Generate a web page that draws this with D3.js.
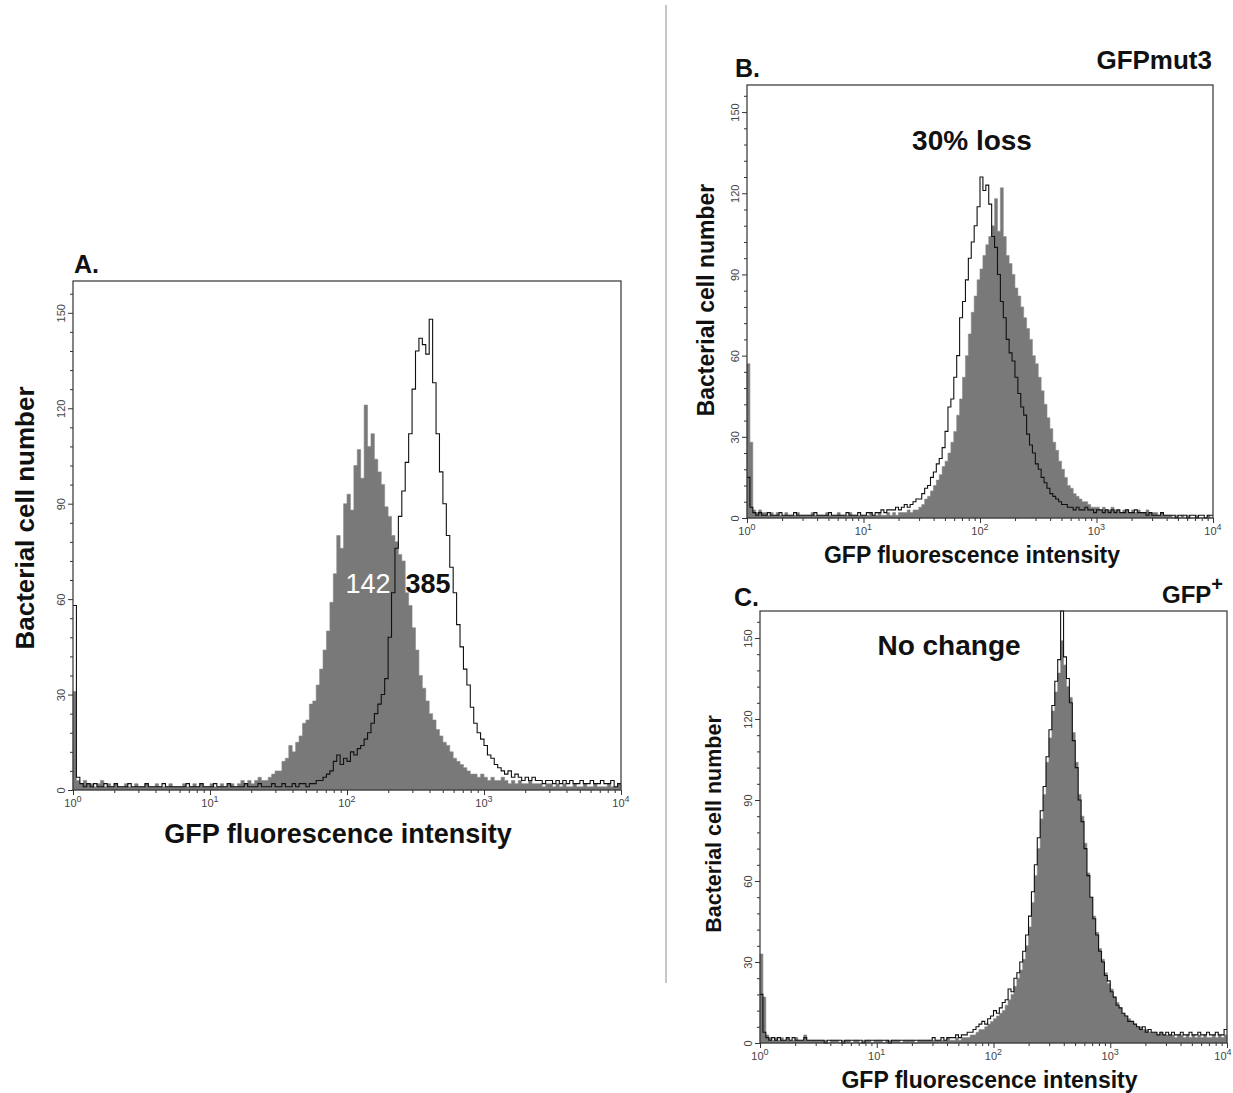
<!DOCTYPE html>
<html>
<head>
<meta charset="utf-8">
<script src="https://cdn.jsdelivr.net/npm/d3@7"></script>
<style>
  body { margin: 0; background: #fff; }
  svg text { font-family: "Liberation Sans", Arial, Helvetica, sans-serif; }
</style>
</head>
<body>
<div id="figure"></div>
<script>
// Flow cytometry histograms, 40 channels per decade from 10^0 to 10^4 (160 channels).
// Counts.

// A. gray = filled histogram, black = outline histogram
const aGray = [
  31,3,2,3,2,2,1,2,3,1, 2,1,2,1,1,2,1,1,2,1, 1,2,1,1,2,1,1,1,2,1, 1,1,2,1,1,2,1,2,1,1,
  2,1,1,2,1,2,2,1,2,3, 2,3,2,3,4,3,3,4,5,6, 6,9,10,14,12,15,17,21,22,27, 28,33,38,44,50,59,68,80,76,90,
  93,88,102,107,98,121,108,112,104,100, 96,89,86,80,78,74,72,62,58,51, 44,36,32,28,24,22,19,17,15,14,
  12,10,9,8,7,6,5,5,4,5, 4,3,4,3,3,4,3,2,3,2, 3,2,2,3,2,2,2,1,2,2, 1,2,1,2,1,1,2,1,1,2, 1,1,2,1,1,1,2,1,1,2
];
const aBlack = [
  58,4,2,1,2,1,2,1,1,2, 1,1,2,1,1,1,2,1,1,1, 1,2,1,1,1,1,2,1,1,1, 1,1,1,2,1,1,1,2,1,1,
  1,2,1,1,1,2,1,1,1,1, 2,1,1,1,2,1,1,1,2,1, 1,2,1,1,2,1,2,2,1,2, 2,3,3,4,5,6,9,11,8,10,
  9,12,11,13,14,16,18,21,24,27, 30,35,48,62,76,86,94,103,112,126, 138,142,140,137,148,128,112,100,90,80,
  70,62,52,45,38,33,26,21,18,16, 14,11,10,8,7,6,5,6,4,5, 4,3,4,3,4,3,3,2,3,3, 2,3,2,3,2,3,2,2,3,2, 2,3,2,2,3,2,2,3,1,2
];

// B. GFPmut3
const bGray = [
  57,28,3,2,3,2,2,1,2,1, 2,1,1,2,1,1,1,2,1,1, 1,1,2,1,1,1,1,2,1,1, 1,2,1,1,1,2,1,1,1,1,
  1,1,2,1,1,2,1,1,2,1, 2,1,2,2,2,3,2,3,3,4, 5,7,8,10,12,14,16,19,21,24, 28,32,38,44,52,60,68,76,82,88,
  92,97,101,104,108,118,106,122,104,97, 94,90,85,82,78,74,70,66,60,57, 52,47,42,37,33,28,25,21,18,15,
  12,11,9,8,7,6,6,5,4,4, 4,3,4,3,3,4,3,3,2,3, 3,2,3,2,3,2,2,3,2,2, 2,1,2,1,1,1,0,1,0,1, 0,1,0,0,1,0,0,0,1,0
];
const bBlack = [
  15,4,2,1,2,1,1,2,1,1, 1,2,1,1,1,1,2,1,1,1, 1,1,1,2,1,1,1,1,2,1, 1,1,1,1,2,1,1,1,2,1,
  1,2,2,1,2,2,3,2,3,3, 3,4,3,4,5,4,5,6,7,7, 9,11,12,15,17,20,22,26,32,41, 44,52,60,74,80,88,96,102,108,115,
  126,121,123,116,104,100,90,80,74,66, 61,58,52,46,41,38,31,27,24,20, 18,15,13,11,9,8,7,6,5,5,
  4,4,3,4,3,3,4,3,3,2, 3,3,2,3,2,3,2,3,2,2, 3,2,2,3,2,2,2,1,2,1, 1,1,2,1,1,1,1,0,1,1, 1,0,1,1,0,1,1,0,1,1
];

// C. GFP+
const cGray = [
  33,17,3,2,1,2,1,2,1,2, 1,1,2,1,1,3,1,1,1,1, 1,1,1,0,1,1,1,0,1,1, 1,0,1,1,0,1,1,1,0,1,
  1,1,0,1,1,1,1,1,0,1, 1,1,1,0,1,1,1,1,1,1, 1,1,1,1,2,1,1,2,1,2, 2,2,3,3,4,5,5,6,7,8,
  9,10,11,12,14,16,18,21,24,27, 31,36,43,52,62,72,83,92,104,113, 123,130,137,149,140,132,128,115,104,92,
  84,74,63,54,47,41,35,31,26,22, 20,17,15,13,11,10,9,8,7,6, 6,5,5,4,4,4,3,4,3,3, 3,3,2,3,3,2,3,2,3,2, 3,2,3,2,2,3,2,3,2,3
];
const cBlack = [
  18,4,2,1,2,1,2,1,1,2, 1,2,1,1,1,2,1,1,1,1, 1,1,0,1,1,1,1,1,0,1, 1,1,1,1,1,0,1,1,1,1,
  1,1,1,1,0,1,1,1,1,1, 1,1,1,1,1,1,1,1,1,2, 1,1,2,1,2,2,2,3,2,3, 3,4,4,5,6,7,8,7,9,10,
  12,11,13,15,16,20,19,24,26,30, 34,40,47,56,66,76,86,95,106,116, 125,134,142,160,143,135,126,112,102,90,
  82,72,62,54,46,40,34,30,25,23, 19,17,14,13,11,10,8,8,7,6, 5,6,4,5,4,4,3,4,3,4, 3,4,3,3,4,3,3,4,3,3, 4,3,3,4,3,3,4,3,3,5
];

const channelsPerDecade = 40;
const yMajor = [0, 30, 60, 90, 120, 150];
const yMinor = [6,12,18,24,36,42,48,54,66,72,78,84,96,102,108,114,126,132,138,144,156];
const xMajor = [1, 10, 100, 1000, 10000];
const xExp = ['0', '1', '2', '3', '4'];

const w = 1233, h = 1093;
const fillGray = '#797979';

const svg = d3.select('#figure')
  .append('svg')
  .attr('width', w)
  .attr('height', h);

// divider between panel A and panels B/C
svg.append('line')
  .attr('x1', 666).attr('x2', 666)
  .attr('y1', 5).attr('y2', 983)
  .attr('stroke', '#b5b5b5')
  .attr('stroke-width', 1.5);

function toPoints(counts) {
  const pts = counts.map((c, i) => [Math.pow(10, i / channelsPerDecade), c]);
  pts.push([Math.pow(10, counts.length / channelsPerDecade), counts[counts.length - 1]]);
  return pts;
}

function drawPanel(p) {
  const x = d3.scaleLog().domain([1, 10000]).range([p.left, p.right]);
  const y = d3.scaleLinear().domain([0, 160]).range([p.bottom, p.top]);
  const g = svg.append('g');

  // histograms
  const area = d3.area()
    .x(d => x(d[0]))
    .y0(y(0))
    .y1(d => y(d[1]))
    .curve(d3.curveStepAfter);
  const line = d3.line()
    .x(d => x(d[0]))
    .y(d => y(d[1]))
    .curve(d3.curveStepAfter);

  g.append('path')
    .datum(toPoints(p.gray))
    .attr('d', area)
    .attr('fill', fillGray)
    .attr('stroke', '#8a8a8a')
    .attr('stroke-width', 0.6);

  g.append('path')
    .datum(toPoints(p.black))
    .attr('d', line)
    .attr('fill', 'none')
    .attr('stroke', '#111')
    .attr('stroke-width', 1.1);

  // frame
  g.append('rect')
    .attr('x', p.left).attr('y', p.top)
    .attr('width', p.right - p.left)
    .attr('height', p.bottom - p.top)
    .attr('fill', 'none')
    .attr('stroke', '#333')
    .attr('stroke-width', 1.2);

  // x axis, major + minor ticks
  const minor = [];
  for (let k = 0; k < 4; k++) for (let m = 2; m <= 9; m++) minor.push(m * Math.pow(10, k));

  const xMaj = g.append('g')
    .attr('transform', `translate(0,${p.bottom})`)
    .call(d3.axisBottom(x).tickValues(xMajor).tickSize(5).tickFormat(''));
  g.append('g')
    .attr('transform', `translate(0,${p.bottom})`)
    .call(d3.axisBottom(x).tickValues(minor).tickSize(3).tickFormat(''))
    .call(a => a.select('.domain').remove());
  xMaj.select('.domain').remove();

  const xl = g.append('g').selectAll('text')
    .data(xMajor)
    .enter()
    .append('text')
    .attr('x', d => Math.min(x(d), w - 10))
    .attr('y', p.bottom + 17)
    .attr('text-anchor', 'middle')
    .style('font-size', '11px')
    .attr('fill', '#444');
  xl.append('tspan').text('10');
  xl.append('tspan')
    .attr('dy', -5)
    .style('font-size', '9px')
    .text((d, i) => xExp[i]);

  // y axis
  const yMaj = g.append('g')
    .attr('transform', `translate(${p.left},0)`)
    .call(d3.axisLeft(y).tickValues(yMajor).tickSize(5));
  yMaj.select('.domain').remove();
  yMaj.selectAll('text')
    .attr('transform', 'rotate(-90)')
    .attr('x', 0)
    .attr('y', -8)
    .attr('dy', 0)
    .attr('text-anchor', 'middle')
    .style('font-size', '11px')
    .style('font-family', '"Liberation Sans", Arial, sans-serif')
    .attr('fill', '#444');
  g.append('g')
    .attr('transform', `translate(${p.left},0)`)
    .call(d3.axisLeft(y).tickValues(yMinor).tickSize(3).tickFormat(''))
    .call(a => a.select('.domain').remove());

  g.selectAll('.tick line').attr('stroke', '#333');

  // axis titles
  g.append('text')
    .attr('x', (p.left + p.right) / 2 + p.xTitleShift)
    .attr('y', p.xTitleY)
    .attr('text-anchor', 'middle')
    .style('font-size', p.xTitleSize + 'px')
    .style('font-weight', 'bold')
    .attr('fill', '#111')
    .text('GFP fluorescence intensity');

  g.append('text')
    .attr('transform', `translate(${p.yTitleX},${p.yTitleY}) rotate(-90)`)
    .attr('text-anchor', 'middle')
    .style('font-size', p.yTitleSize + 'px')
    .style('font-weight', 'bold')
    .attr('fill', '#111')
    .text('Bacterial cell number');

  // panel letter
  g.append('text')
    .attr('x', p.letterX)
    .attr('y', p.letterY)
    .style('font-size', '25px')
    .style('font-weight', 'bold')
    .attr('fill', '#111')
    .text(p.letter);
}

const panels = [
  { letter: 'A.', gray: aGray, black: aBlack, left: 73, top: 281, right: 621, bottom: 790,
    letterX: 74, letterY: 273, xTitleY: 843, xTitleSize: 27, xTitleShift: -9,
    yTitleX: 34, yTitleY: 518, yTitleSize: 26 },
  { letter: 'B.', gray: bGray, black: bBlack, left: 747, top: 85, right: 1213, bottom: 518,
    letterX: 735, letterY: 77, xTitleY: 563, xTitleSize: 23, xTitleShift: -8,
    yTitleX: 714, yTitleY: 300, yTitleSize: 23 },
  { letter: 'C.', gray: cGray, black: cBlack, left: 760, top: 611, right: 1227, bottom: 1043,
    letterX: 734, letterY: 606, xTitleY: 1088, xTitleSize: 23, xTitleShift: -4,
    yTitleX: 721, yTitleY: 824, yTitleSize: 21.5 }
];
panels.forEach(drawPanel);

// annotations
svg.append('text')
  .attr('x', 368).attr('y', 593)
  .attr('text-anchor', 'middle')
  .style('font-size', '27px')
  .attr('fill', '#fff')
  .text('142');
svg.append('text')
  .attr('x', 428).attr('y', 593)
  .attr('text-anchor', 'middle')
  .style('font-size', '27px')
  .style('font-weight', 'bold')
  .attr('fill', '#111')
  .text('385');

svg.append('text')
  .attr('x', 1212).attr('y', 69)
  .attr('text-anchor', 'end')
  .style('font-size', '26px')
  .style('font-weight', 'bold')
  .attr('fill', '#111')
  .text('GFPmut3');

const gfpPlus = svg.append('text')
  .attr('x', 1223).attr('y', 603)
  .attr('text-anchor', 'end')
  .style('font-size', '24px')
  .style('font-weight', 'bold')
  .attr('fill', '#111');
gfpPlus.append('tspan').text('GFP');
gfpPlus.append('tspan').attr('dy', -12).style('font-size', '20px').text('+');

svg.append('text')
  .attr('x', 972).attr('y', 150)
  .attr('text-anchor', 'middle')
  .style('font-size', '28px')
  .style('font-weight', 'bold')
  .attr('fill', '#111')
  .text('30% loss');

svg.append('text')
  .attr('x', 949).attr('y', 655)
  .attr('text-anchor', 'middle')
  .style('font-size', '28px')
  .style('font-weight', 'bold')
  .attr('fill', '#111')
  .text('No change');
</script>
</body>
</html>
